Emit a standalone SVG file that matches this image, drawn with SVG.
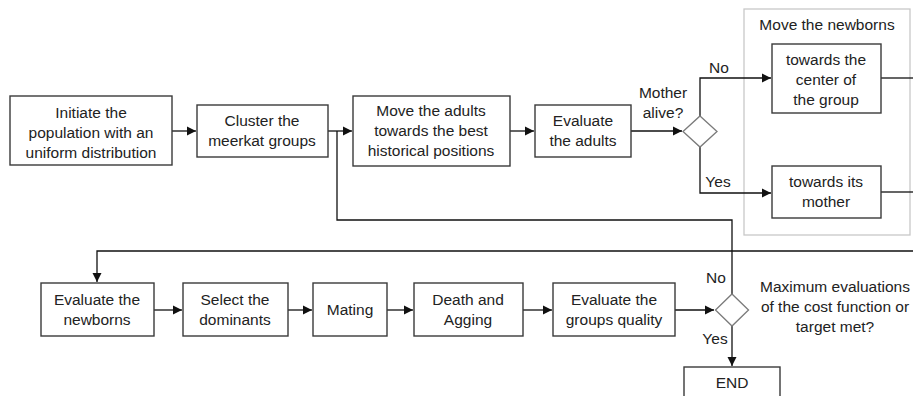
<svg xmlns="http://www.w3.org/2000/svg" width="913" height="396" viewBox="0 0 913 396">
<defs>
<style>
.box{fill:#fff;stroke:#3a3a3a;stroke-width:1.4}
.dia{fill:#fff;stroke:#7a7a7a;stroke-width:1.3}
.ln{fill:none;stroke:#111;stroke-width:1.3}
text{font-family:"Liberation Sans",Arial,sans-serif;font-size:15.5px;fill:#222;text-anchor:middle}
</style>
<marker id="ar" markerWidth="10" markerHeight="10" refX="9" refY="5" orient="auto" markerUnits="userSpaceOnUse">
<path d="M0,0.5 L9,5 L0,9.5 Z" fill="#111"/>
</marker>
</defs>
<rect x="0" y="0" width="913" height="396" fill="#fff"/>
<g id="container">
<rect x="744" y="9" width="166" height="226" fill="none" stroke="#c8c8c8" stroke-width="1.3"/>
<text x="827" y="30">Move the newborns</text>
</g>
<g id="connectors">
<path class="ln" d="M172,131 H196" marker-end="url(#ar)"/>
<path class="ln" d="M328,131 H352" marker-end="url(#ar)"/>
<path class="ln" d="M510,131 H534" marker-end="url(#ar)"/>
<path class="ln" d="M631,131 H682" marker-end="url(#ar)"/>
<path class="ln" d="M700,116 V78 H771" marker-end="url(#ar)"/>
<path class="ln" d="M700,147 V193 H771" marker-end="url(#ar)"/>
<path class="ln" d="M881,78 H913"/>
<path class="ln" d="M881,192 H913"/>
<path class="ln" d="M732,294 V220 H337 V131"/>
<path class="ln" d="M913,251 H97 V282" marker-end="url(#ar)"/>
<path class="ln" d="M154,310 H182" marker-end="url(#ar)"/>
<path class="ln" d="M288,310 H312" marker-end="url(#ar)"/>
<path class="ln" d="M387,310 H413" marker-end="url(#ar)"/>
<path class="ln" d="M523,310 H552" marker-end="url(#ar)"/>
<path class="ln" d="M675,310 H714" marker-end="url(#ar)"/>
<path class="ln" d="M732,326 V366" marker-end="url(#ar)"/>
<text x="719" y="73">No</text>
<text x="718" y="187">Yes</text>
<text x="716" y="283">No</text>
<text x="715" y="344">Yes</text>
</g>
<g id="init">
<rect class="box" x="10" y="96" width="162" height="69"/>
<text x="91" y="118">Initiate the</text>
<text x="91" y="138">population with an</text>
<text x="91" y="158">uniform distribution</text>
</g>
<g id="cluster">
<rect class="box" x="197" y="105" width="131" height="52"/>
<text x="262" y="126">Cluster the</text>
<text x="262" y="146">meerkat groups</text>
</g>
<g id="moveAdults">
<rect class="box" x="353" y="96" width="157" height="70"/>
<text x="431" y="116">Move the adults</text>
<text x="431" y="136">towards the best</text>
<text x="431" y="156">historical positions</text>
</g>
<g id="evalAdults">
<rect class="box" x="535" y="105" width="96" height="52"/>
<text x="583" y="126">Evaluate</text>
<text x="583" y="146">the adults</text>
</g>
<g id="motherAlive">
<path class="dia" d="M700,116 L717,131.5 L700,147 L683,131.5 Z"/>
<text x="663" y="98">Mother</text>
<text x="663" y="118">alive?</text>
</g>
<g id="towardsCenter">
<rect class="box" x="772" y="44" width="109" height="69"/>
<text x="826" y="65">towards the</text>
<text x="826" y="85">center of</text>
<text x="826" y="105">the group</text>
</g>
<g id="towardsMother">
<rect class="box" x="772" y="166" width="109" height="52"/>
<text x="826" y="187">towards its</text>
<text x="826" y="207">mother</text>
</g>
<g id="evalNewborns">
<rect class="box" x="41" y="283" width="113" height="53"/>
<text x="97" y="305">Evaluate the</text>
<text x="97" y="325">newborns</text>
</g>
<g id="selectDominants">
<rect class="box" x="183" y="283" width="105" height="53"/>
<text x="235" y="305">Select the</text>
<text x="235" y="325">dominants</text>
</g>
<g id="mating">
<rect class="box" x="313" y="283" width="74" height="53"/>
<text x="350" y="315">Mating</text>
</g>
<g id="death">
<rect class="box" x="414" y="283" width="109" height="53"/>
<text x="468" y="305">Death and</text>
<text x="468" y="325">Agging</text>
</g>
<g id="evalGroups">
<rect class="box" x="553" y="283" width="122" height="53"/>
<text x="614" y="305">Evaluate the</text>
<text x="614" y="325">groups quality</text>
</g>
<g id="maxEval">
<path class="dia" d="M732,294 L748.5,310 L732,326 L715.5,310 Z"/>
<text x="835" y="292">Maximum evaluations</text>
<text x="835" y="312">of the cost function or</text>
<text x="835" y="332">target met?</text>
</g>
<g id="end">
<rect class="box" x="684" y="367" width="96" height="40"/>
<text x="732" y="388">END</text>
</g>
</svg>
